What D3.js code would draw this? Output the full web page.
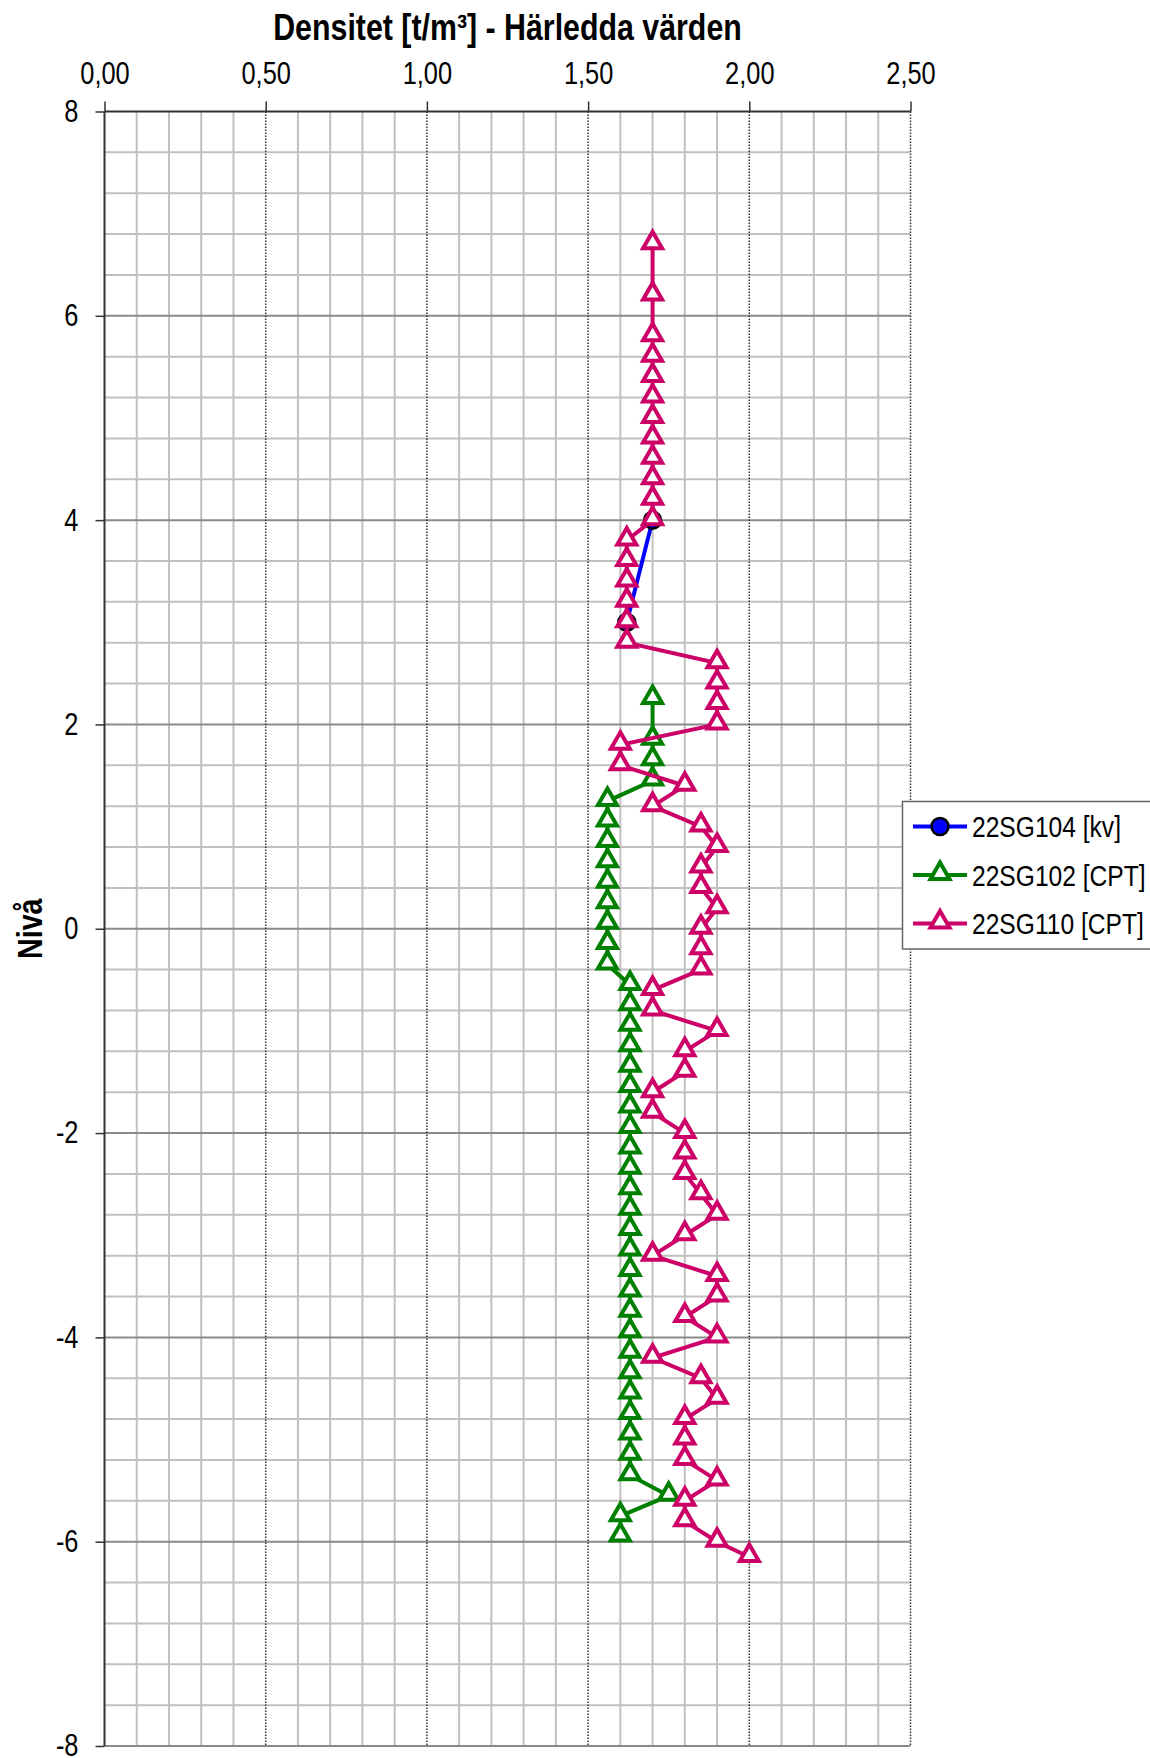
<!DOCTYPE html>
<html><head><meta charset="utf-8">
<script src="https://cdn.jsdelivr.net/npm/d3@7"></script>
<style>
body{margin:0;background:#fff}
svg text{font-family:"Liberation Sans",Arial,sans-serif;fill:#000}
</style>
</head><body><svg id="c" width="1150" height="1758"></svg>
<script>
const titleText = "Densitet [t/m³] - Härledda värden";
const yLabel = "Nivå";
const xTicks = [0, 0.5, 1, 1.5, 2, 2.5];
const xTickLabels = ["0,00", "0,50", "1,00", "1,50", "2,00", "2,50"];
const yTicks = [8, 6, 4, 2, 0, -2, -4, -6, -8];
const seriesNames = ["22SG104 [kv]", "22SG102 [CPT]", "22SG110 [CPT]"];
const seriesColors = ["#0000ff", "#008000", "#cc0066"];

const sg104Level = [4.0, 3.0];
const sg104Density = [1.70, 1.62];

const sg102Level = [2.25, 1.85, 1.65, 1.45, 1.25, 1.05, 0.85, 0.65, 0.45, 0.25, 0.05, -0.15, -0.35,
  -0.55, -0.75, -0.95, -1.15, -1.35, -1.55, -1.75, -1.95, -2.15, -2.35, -2.55, -2.75, -2.95,
  -3.15, -3.35, -3.55, -3.75, -3.95, -4.15, -4.35, -4.55, -4.75, -4.95, -5.15, -5.35,
  -5.55, -5.75, -5.95];
const sg102Density = [1.70, 1.70, 1.70, 1.70, 1.56, 1.56, 1.56, 1.56, 1.56, 1.56, 1.56, 1.56, 1.56,
  1.63, 1.63, 1.63, 1.63, 1.63, 1.63, 1.63, 1.63, 1.63, 1.63, 1.63, 1.63, 1.63,
  1.63, 1.63, 1.63, 1.63, 1.63, 1.63, 1.63, 1.63, 1.63, 1.63, 1.63, 1.63,
  1.75, 1.60, 1.60];

const sg110Level = [6.7, 6.2, 5.8, 5.6, 5.4, 5.2, 5.0, 4.8, 4.6, 4.4, 4.2, 4.0,
  3.8, 3.6, 3.4, 3.2, 3.0, 2.8, 2.6, 2.4, 2.2, 2.0, 1.8, 1.6, 1.4, 1.2, 1.0, 0.8,
  0.6, 0.4, 0.2, 0.0, -0.2, -0.4, -0.6, -0.8, -1.0, -1.2, -1.4, -1.6, -1.8, -2.0,
  -2.2, -2.4, -2.6, -2.8, -3.0, -3.2, -3.4, -3.6, -3.8, -4.0, -4.2, -4.4, -4.6,
  -4.8, -5.0, -5.2, -5.4, -5.6, -5.8, -6.0, -6.15];
const sg110Density = [1.70, 1.70, 1.70, 1.70, 1.70, 1.70, 1.70, 1.70, 1.70, 1.70, 1.70, 1.70,
  1.62, 1.62, 1.62, 1.62, 1.62, 1.62, 1.90, 1.90, 1.90, 1.90, 1.60, 1.60, 1.80, 1.70, 1.85, 1.90,
  1.85, 1.85, 1.90, 1.85, 1.85, 1.85, 1.70, 1.70, 1.90, 1.80, 1.80, 1.70, 1.70, 1.80,
  1.80, 1.80, 1.85, 1.90, 1.80, 1.70, 1.90, 1.90, 1.80, 1.90, 1.70, 1.85, 1.90,
  1.80, 1.80, 1.80, 1.90, 1.80, 1.80, 1.90, 2.00];

const series = [
  {name: seriesNames[0], color: seriesColors[0], marker: "circle", level: sg104Level, dens: sg104Density},
  {name: seriesNames[1], color: seriesColors[1], marker: "triangle", level: sg102Level, dens: sg102Density},
  {name: seriesNames[2], color: seriesColors[2], marker: "triangle", level: sg110Level, dens: sg110Density}
];

const NARROW = 0.82; // Arial Narrow ≈ Arial at 82% width
function narrow(sel) {
  sel.each(function () {
    const t = d3.select(this);
    const tx = +t.attr("x") || 0, ty = +t.attr("y") || 0;
    const prev = t.attr("transform") || "";
    t.attr("x", 0).attr("y", 0).attr("transform", `${prev} translate(${tx},${ty}) scale(${NARROW},1)`);
  });
}

const svg = d3.select("#c");
svg.append("rect").attr("width", 1150).attr("height", 1758).attr("fill", "#fff");

const x = d3.scaleLinear().domain([0, 2.5]).range([104.5, 910.5]);
const y = d3.scaleLinear().domain([8, -8]).range([111.5, 1746]);

const g = svg.append("g");
const minorX = d3.range(1, 25).filter(i => i % 5 !== 0).map(i => i / 10);
const minorY = d3.range(-20, 20).filter(i => i % 5 !== 0).map(i => i * 0.4);
g.selectAll(".mx").data(minorX).join("line")
  .attr("x1", d => x(d)).attr("x2", d => x(d)).attr("y1", y(8)).attr("y2", y(-8))
  .attr("stroke", "#c0c0c0").attr("stroke-width", 2);
g.selectAll(".my").data(minorY).join("line")
  .attr("x1", x(0)).attr("x2", x(2.5)).attr("y1", d => y(d)).attr("y2", d => y(d))
  .attr("stroke", "#c0c0c0").attr("stroke-width", 2);
g.selectAll(".My").data(yTicks.filter(d => d !== 8)).join("line")
  .attr("x1", x(0)).attr("x2", x(2.5)).attr("y1", d => y(d)).attr("y2", d => y(d))
  .attr("stroke", "#8a8a8a").attr("stroke-width", 2);
g.selectAll(".Mx").data(xTicks.filter(d => d !== 0)).join("line")
  .attr("x1", d => x(d)).attr("x2", d => x(d)).attr("y1", y(8)).attr("y2", y(-8))
  .attr("stroke", "#333").attr("stroke-width", 1.5).attr("stroke-dasharray", "1.5,1.5");

const xAxis = d3.axisTop(x).tickValues(xTicks).tickFormat((d, i) => xTickLabels[i]).tickSize(10).tickPadding(18);
const ax = svg.append("g").attr("transform", `translate(0,${y(8)})`).call(xAxis);
ax.select(".domain").attr("stroke", "#333").attr("stroke-width", 2).attr("d", `M${x(0)},0H${x(2.5)}`);
ax.selectAll(".tick line").attr("stroke", "#333").attr("stroke-width", 1.5);
ax.selectAll(".tick text").attr("font-size", 31).attr("font-family", null).call(narrow);

const yAxis = d3.axisLeft(y).tickValues(yTicks).tickFormat(d => String(d)).tickSize(9).tickPadding(17);
const ay = svg.append("g").attr("transform", `translate(${x(0)},0)`).call(yAxis);
ay.select(".domain").attr("stroke", "#333").attr("stroke-width", 2).attr("d", `M0,${y(8)}V${y(-8)}`);
ay.selectAll(".tick line").attr("stroke", "#333").attr("stroke-width", 1.5);
ay.selectAll(".tick text").attr("font-size", 31).attr("font-family", null).call(narrow);

svg.append("text").attr("x", (x(0) + x(2.5)) / 2).attr("y", 40).attr("text-anchor", "middle")
  .attr("font-size", 37).attr("font-weight", "bold").text(titleText).call(narrow);
svg.append("text").attr("transform", `translate(42,${(y(8) + y(-8)) / 2}) rotate(-90)`)
  .attr("text-anchor", "middle").attr("font-size", 35).attr("font-weight", "bold").text(yLabel).call(narrow);

const triPath = "M0,-12.5L9.5,4L-9.5,4Z";
function drawMarker(sel, s) {
  if (s.marker === "circle") {
    sel.append("circle").attr("r", 8.5).attr("fill", s.color).attr("stroke", "#000").attr("stroke-width", 2.5);
  } else {
    sel.append("path").attr("d", triPath).attr("fill", "#fff").attr("stroke", s.color)
      .attr("stroke-width", 4).attr("stroke-linejoin", "miter");
  }
}

const line = d3.line().x(d => x(d[1])).y(d => y(d[0]));
series.forEach(s => {
  const pts = s.level.map((l, i) => [l, s.dens[i]]);
  const sg = svg.append("g");
  sg.append("path").attr("d", line(pts)).attr("fill", "none").attr("stroke", s.color).attr("stroke-width", 4);
  sg.selectAll("g").data(pts).join("g").attr("transform", d => `translate(${x(d[1])},${y(d[0])})`)
    .each(function () { drawMarker(d3.select(this), s); });
});

const lg = svg.append("g");
lg.append("rect").attr("x", 902.5).attr("y", 801.5).attr("width", 260).attr("height", 147.5)
  .attr("fill", "#fff").attr("stroke", "#666").attr("stroke-width", 1.5);
const rowY = [826.5, 875, 923.5];
series.forEach((s, i) => {
  const r = lg.append("g").attr("transform", `translate(0,${rowY[i]})`);
  r.append("line").attr("x1", 913).attr("x2", 967).attr("stroke", s.color).attr("stroke-width", 4);
  const m = r.append("g").attr("transform", "translate(940,0)");
  drawMarker(m, s);
  r.append("text").attr("x", 972).attr("y", 0).attr("dy", "0.36em").attr("font-size", 30).text(s.name).call(narrow);
});
</script>
</body></html>
